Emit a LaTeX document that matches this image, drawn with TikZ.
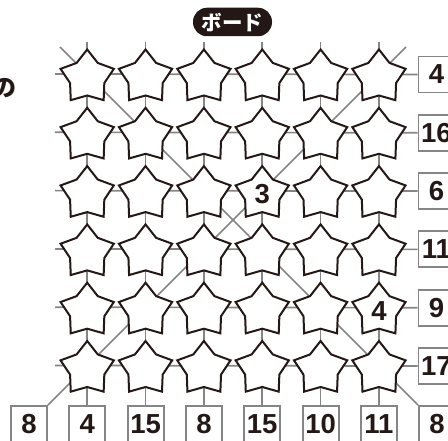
\documentclass[tikz,border=0pt]{standalone}
\usepackage{fontspec}
\usetikzlibrary{backgrounds}
\newfontfamily\numfont{Liberation Sans}
\newfontfamily\jpfont{Noto Sans CJK JP}
\definecolor{ink}{HTML}{231815}
\definecolor{gline}{HTML}{858585}
\begin{document}
\begin{tikzpicture}[x=1pt,y=-1pt,
  gridline/.style={draw=gline,line width=1.7pt},
  starshape/.style={draw=ink,fill=white,line width=2pt,line join=miter},
  numbox/.style={draw=gline,fill=white,line width=1.9pt,minimum size=36pt,inner sep=0pt,text=ink,font=\numfont\bfseries\fontsize{27.5}{30}\selectfont},
  starnum/.style={inner sep=0pt,text=ink,font=\numfont\bfseries\fontsize{27.5}{30}\selectfont}]
\clip (0,0) rectangle (448,441);
% grid points and line starts
\foreach \i in {1,...,6}{
  \coordinate (hs\i) at (55,{74+58.3*(\i-1)});
  \coordinate (vs\i) at ({87.2+58.35*(\i-1)},42);
}
\coordinate (d1s) at (60,47);
\coordinate (d2s) at (406,47);
% stars
\foreach \i in {1,...,6}{
  \foreach \j in {1,...,6}{
    \begin{scope}[shift={({87.2+58.35*(\j-1)},{77.5+58.3*(\i-1)})}]
      \draw[starshape] (-90:28) -- (-54:18) -- (-18:28) -- (18:18) -- (54:28) -- (90:18) -- (126:28) -- (162:18) -- (198:28) -- (234:18) -- cycle;
    \end{scope}
  }
}
\node[starnum] (s3) at (262.3,194.5) {3};
\node[starnum] (s4) at (379,311.5) {4};
% right boxes
\foreach \i/\v in {1/4,2/16,3/6,4/11,5/9,6/17}
  \node[numbox] (r\i) at (436.5,{74.5+58.3*(\i-1)}) {\v};
% bottom boxes
\foreach \j/\v in {1/4,2/15,3/8,4/15,5/10,6/11}
  \node[numbox] (b\j) at ({87.2+58.35*(\j-1)},424) {\v};
\node[numbox] (dl) at (29,424) {8};
\node[numbox] (dr) at (437,424) {8};
% title and side text
\node[fill=ink,rounded corners=14pt,minimum width=79pt,minimum height=28.5pt,inner sep=0pt,text=white,font=\jpfont\bfseries\fontsize{20.5}{22}\selectfont] (title) at (232.5,22) {ボード};
\node[inner sep=0pt,text=ink,font=\jpfont\bfseries\fontsize{24}{26}\selectfont] (side) at (4,88) {の};
% connectors behind
\begin{scope}[on background layer]
  \foreach \i in {1,...,6}{
    \draw[gridline] (hs\i) -- (r\i.west);
    \draw[gridline] (vs\i) -- (b\i.north);
  }
  \draw[gridline] (d1s) -- (dr.north west);
  \draw[gridline] (d2s) -- (dl.north east);
\end{scope}
\end{tikzpicture}
\end{document}
